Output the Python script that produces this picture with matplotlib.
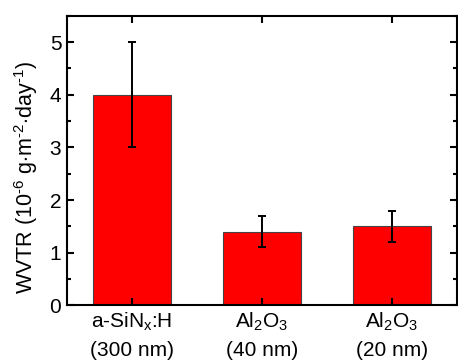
import matplotlib
matplotlib.use("Agg")
import matplotlib.pyplot as plt
import numpy as np
from matplotlib.ticker import MultipleLocator

# ── Data ─────────────────────────────────────────────────────────────────────
samples = ["a-SiN$_\\mathregular{x}$:H\n(300 nm)",
           "Al$_\\mathregular{2}$O$_\\mathregular{3}$\n(40 nm)",
           "Al$_\\mathregular{2}$O$_\\mathregular{3}$\n(20 nm)"]
wvtr = [4.0, 1.4, 1.5]
wvtr_err = [1.0, 0.3, 0.3]

# ── Style ────────────────────────────────────────────────────────────────────
plt.rcParams["font.family"] = ["Liberation Sans", "DejaVu Sans"]
plt.rcParams["mathtext.fontset"] = "custom"
plt.rcParams["mathtext.rm"] = "Liberation Sans"
plt.rcParams["mathtext.it"] = "Liberation Sans"
plt.rcParams["font.size"] = 15

fig, ax = plt.subplots(figsize=(4.58, 3.6), dpi=100)
fig.subplots_adjust(left=0.146, right=0.998, top=0.956, bottom=0.152)

x = np.arange(len(wvtr))
ax.bar(x, wvtr, width=0.6, color="#ff0000", edgecolor="#444444", linewidth=0.8,
       yerr=wvtr_err, capsize=3,
       error_kw=dict(ecolor="black", elinewidth=1.4, capthick=1.4))

ax.set_xlim(-0.5, 2.5)
ax.set_ylim(0, 5.5)
ax.set_xticks(x)
ax.set_xticklabels(samples, linespacing=1.5)
ax.yaxis.set_major_locator(MultipleLocator(1))
ax.yaxis.set_minor_locator(MultipleLocator(0.5))
ax.tick_params(axis="both", which="both", direction="in",
               top=True, right=True, width=1.5)
ax.tick_params(which="major", length=5, pad=4)
ax.tick_params(which="minor", length=3)
ax.tick_params(axis="x", which="minor", top=False, bottom=False)
for s in ax.spines.values():
    s.set_linewidth(1.5)

ax.set_ylabel("WVTR (10$^\\mathregular{\\text{-}6}$ g$\\cdot$m$^\\mathregular{\\text{-}2}$"
              "$\\cdot$day$^\\mathregular{\\text{-}1}$)", fontsize=15.5)
ax.yaxis.set_label_coords(-0.068, 0.44)

fig.savefig("out.png", dpi=100)
